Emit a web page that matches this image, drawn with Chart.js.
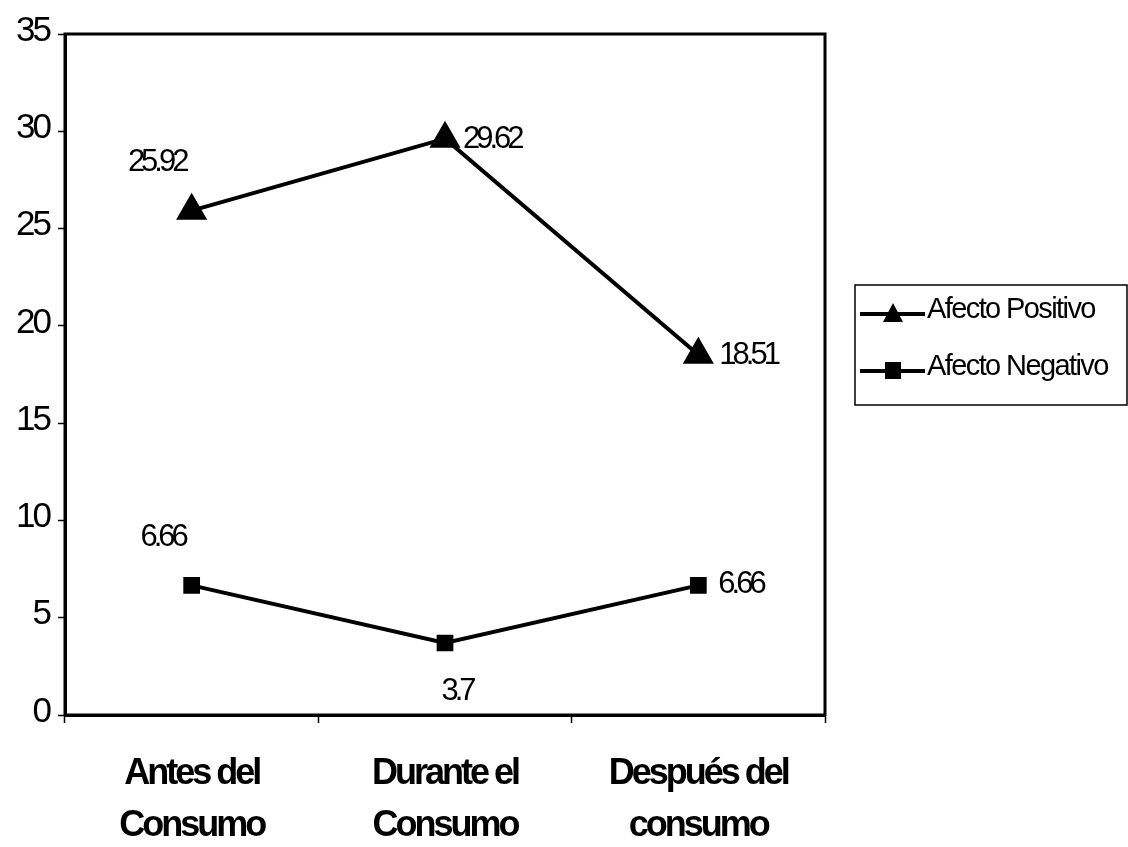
<!DOCTYPE html>
<html>
<head>
<meta charset="utf-8">
<script src="https://cdn.jsdelivr.net/npm/chart.js@4"></script>
<style>
  html, body { margin: 0; padding: 0; background: #fff; }
  #wrap { width: 1128px; height: 847px; }
</style>
</head>
<body>
<div id="wrap"><canvas id="chart"></canvas></div>
<script>
// categorías y series
const categories = [['Antes del', 'Consumo'], ['Durante el', 'Consumo'], ['Después del', 'consumo']];
const afectoPositivo = [25.92, 29.62, 18.51];
const afectoNegativo = [6.66, 3.7, 6.66];
const yTicks = [0, 5, 10, 15, 20, 25, 30, 35];

const FONT = '"Liberation Sans", Arial, sans-serif';

// desplazamiento de las etiquetas de datos (dx, dy, align)
const labelPos = [
  [[-35, -48, 'center'], [18, 1, 'left'], [21, 1, 'left']],
  [[-29, -48, 'center'], [12, 48, 'center'], [20, -1, 'left']]
];

const dataLabels = {
  id: 'dataLabels',
  afterDatasetsDraw(chart) {
    const ctx = chart.ctx;
    ctx.save();
    ctx.letterSpacing = '-4px';
    ctx.font = '31px ' + FONT;
    ctx.fillStyle = '#000';
    ctx.textBaseline = 'middle';
    chart.data.datasets.forEach((ds, i) => {
      chart.getDatasetMeta(i).data.forEach((pt, j) => {
        const [dx, dy, align] = labelPos[i][j];
        ctx.textAlign = align;
        ctx.fillText(String(ds.data[j]), pt.x + dx, pt.y + dy);
      });
    });
    ctx.restore();
  }
};

const frame = {
  id: 'frame',
  beforeDraw(chart) {
    chart.ctx.letterSpacing = '-3px';
  },
  afterDraw(chart) {
    const { ctx, chartArea: a } = chart;
    ctx.save();
    ctx.strokeStyle = '#000';
    ctx.lineWidth = 3;
    ctx.strokeRect(a.left, a.top, a.right - a.left, a.bottom - a.top);

    // leyenda
    const lx = 855, ly = 285, lw = 272, lh = 120;
    ctx.lineWidth = 1.5;
    ctx.strokeRect(lx, ly, lw, lh);
    ctx.font = '29px ' + FONT;
    ctx.letterSpacing = '-1.6px';
    ctx.fillStyle = '#000';
    ctx.textBaseline = 'middle';
    ctx.textAlign = 'left';
    chart.data.datasets.forEach((ds, i) => {
      const y = ly + 25 + i * 57;
      const ln = y + 4;
      ctx.lineWidth = 4;
      ctx.beginPath();
      ctx.moveTo(lx + 5, ln);
      ctx.lineTo(lx + 70, ln);
      ctx.stroke();
      const cx = lx + 38;
      ctx.beginPath();
      if (ds.pointStyle === 'triangle') {
        ctx.moveTo(cx, ln - 11);
        ctx.lineTo(cx + 10, ln + 8);
        ctx.lineTo(cx - 10, ln + 8);
        ctx.closePath();
      } else {
        ctx.rect(cx - 8, ln - 9, 16, 17);
      }
      ctx.fill();
      ctx.fillText(ds.label, lx + 72, y);
    });
    ctx.restore();
  }
};

new Chart(document.getElementById('chart'), {
  type: 'line',
  data: {
    labels: categories,
    datasets: [
      {
        label: 'Afecto Positivo',
        data: afectoPositivo,
        borderColor: '#000',
        backgroundColor: '#000',
        borderWidth: 4,
        pointStyle: 'triangle',
        pointRadius: 14,
        tension: 0
      },
      {
        label: 'Afecto Negativo',
        data: afectoNegativo,
        borderColor: '#000',
        backgroundColor: '#000',
        borderWidth: 4,
        pointStyle: 'rect',
        pointRadius: 9,
        tension: 0
      }
    ]
  },
  options: {
    responsive: true,
    maintainAspectRatio: false,
    animation: false,
    layout: { padding: { top: 34, right: 303, left: 0, bottom: 0 } },
    plugins: {
      legend: { display: false },
      tooltip: { enabled: false }
    },
    scales: {
      x: {
        offset: true,
        grid: { offset: true, drawOnChartArea: false, tickLength: 8, color: '#000', tickWidth: 1.5 },
        border: { color: '#000', width: 3 },
        ticks: {
          color: '#000',
          font: { family: FONT, size: 36, weight: 'bold', lineHeight: 1.45 },
          padding: 25,
          maxRotation: 0
        },
        afterFit(scale) { scale.height = 132; }
      },
      y: {
        min: 0,
        max: 35,
        afterBuildTicks(scale) { scale.ticks = yTicks.map(v => ({ value: v })); },
        grid: { drawOnChartArea: false, tickLength: 7, color: '#000', tickWidth: 1.5 },
        border: { color: '#000', width: 3 },
        ticks: {
          color: '#000',
          font: { family: FONT, size: 35 },
          padding: 9,
          labelOffset: -3
        },
        afterFit(scale) { scale.width = 65; }
      }
    }
  },
  plugins: [dataLabels, frame]
});
</script>
</body>
</html>
